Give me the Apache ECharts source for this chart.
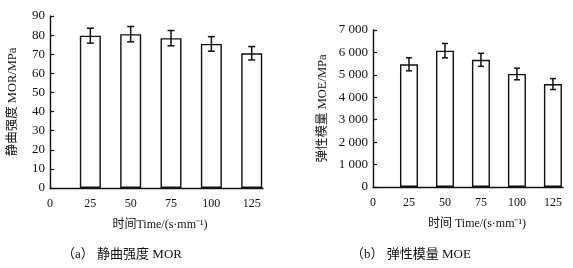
<!DOCTYPE html>
<html>
<head>
<meta charset="utf-8">
<script src="https://cdn.jsdelivr.net/npm/echarts@6/dist/echarts.min.js"></script>
<style>
  html, body { margin: 0; padding: 0; background: #fff; }
  #main { width: 573px; height: 268px; }
</style>
</head>
<body>
<div id="main"></div>
<script>
// time categories (s/mm)
var times = [25, 50, 75, 100, 125];
// MOR, MPa
var morMean = [79.7, 80.5, 78.4, 75.4, 70.5];
var morErr = [3.9, 4.0, 4.0, 3.8, 3.5];
// MOE, MPa
var moeMean = [5470, 6080, 5670, 5040, 4590];
var moeErr = [290, 320, 290, 260, 245];

var FONT = "'Liberation Serif', 'Noto Sans CJK SC', serif";

var chart = echarts.init(document.getElementById('main'));

function pairs(xs, ys) {
    var out = [];
    for (var i = 0; i < xs.length; i++) out.push([xs[i], ys[i]]);
    return out;
}
function errRows(xs, ys, es) {
    var out = [];
    for (var i = 0; i < xs.length; i++) out.push([xs[i], ys[i] - es[i], ys[i] + es[i]]);
    return out;
}
function errBar(capHalf) {
    return function (params, api) {
        var lo = api.coord([api.value(0), api.value(1)]);
        var hi = api.coord([api.value(0), api.value(2)]);
        var st = { stroke: '#111', lineWidth: 1.5 };
        return {
            type: 'group',
            children: [
                { type: 'line', shape: { x1: lo[0], y1: lo[1], x2: hi[0], y2: hi[1] }, style: st },
                { type: 'line', shape: { x1: lo[0] - capHalf, y1: lo[1], x2: lo[0] + capHalf, y2: lo[1] }, style: st },
                { type: 'line', shape: { x1: hi[0] - capHalf, y1: hi[1], x2: hi[0] + capHalf, y2: hi[1] }, style: st }
            ]
        };
    };
}

var axisLine = { lineStyle: { color: '#111', width: 1.4 } };
var labelStyle = { color: '#111', fontFamily: FONT, fontSize: 12 };

function xAxisFor(gi) {
    return {
        type: 'value', gridIndex: gi, min: 0, max: 132, interval: 25,
        axisLine: axisLine, axisTick: { show: false }, splitLine: { show: false },
        axisLabel: Object.assign({}, labelStyle, {
            margin: 10,
            showMaxLabel: false,
            formatter: function (v) { return v % 25 === 0 ? String(v) : ''; }
        })
    };
}

var option = {
    animation: false,
    backgroundColor: '#fff',
    textStyle: { fontFamily: FONT },
    grid: [
        { left: 50, top: 16, right: 310, bottom: 80 },
        { left: 373, top: 30, right: 10, bottom: 81 }
    ],
    xAxis: [xAxisFor(0), xAxisFor(1)],
    yAxis: [
        {
            type: 'value', gridIndex: 0, min: 0, max: 90, interval: 10,
            name: '静曲强度 MOR/MPa', nameLocation: 'middle', nameGap: 31, nameRotate: 90,
            nameTextStyle: { color: '#111', fontFamily: FONT, fontSize: 12.5 },
            axisLine: { show: true, lineStyle: { color: '#111', width: 1.4 } },
            axisTick: { show: true, inside: true, length: 4, lineStyle: { color: '#111', width: 1.2 } },
            splitLine: { show: false },
            axisLabel: Object.assign({}, labelStyle, { margin: 5, fontSize: 13 })
        },
        {
            type: 'value', gridIndex: 1, min: 0, max: 7000, interval: 1000,
            name: '弹性模量 MOE/MPa', nameLocation: 'middle', nameGap: 44, nameRotate: 90,
            nameTextStyle: { color: '#111', fontFamily: FONT, fontSize: 12.5 },
            axisLine: { show: true, lineStyle: { color: '#111', width: 1.4 } },
            axisTick: { show: true, inside: true, length: 4, lineStyle: { color: '#111', width: 1.2 } },
            splitLine: { show: false },
            axisLabel: Object.assign({}, labelStyle, {
                margin: 5,
                fontSize: 13,
                formatter: function (v) {
                    return v >= 1000 ? Math.floor(v / 1000) + ' ' + String(v % 1000).padStart(3, '0') : String(v);
                }
            })
        }
    ],
    series: [
        {
            type: 'bar', xAxisIndex: 0, yAxisIndex: 0, barWidth: 21,
            itemStyle: { color: '#fff', borderColor: '#111', borderWidth: 1.4 },
            data: pairs(times, morMean)
        },
        {
            type: 'custom', xAxisIndex: 0, yAxisIndex: 0, z: 5,
            renderItem: errBar(3.5),
            encode: { x: 0, y: [1, 2] },
            data: errRows(times, morMean, morErr)
        },
        {
            type: 'bar', xAxisIndex: 1, yAxisIndex: 1, barWidth: 18,
            itemStyle: { color: '#fff', borderColor: '#111', borderWidth: 1.4 },
            data: pairs(times, moeMean)
        },
        {
            type: 'custom', xAxisIndex: 1, yAxisIndex: 1, z: 5,
            renderItem: errBar(3),
            encode: { x: 0, y: [1, 2] },
            data: errRows(times, moeMean, moeErr)
        }
    ],
    graphic: [
        {
            type: 'text', x: 160, y: 225,
            style: { text: '时间Time/(s·mm⁻¹)', font: '12px ' + FONT, fill: '#111', align: 'center', verticalAlign: 'middle' }
        },
        {
            type: 'text', x: 477, y: 224,
            style: { text: '时间 Time/(s·mm⁻¹)', font: '12px ' + FONT, fill: '#111', align: 'center', verticalAlign: 'middle' }
        },
        {
            type: 'text', x: 122, y: 255,
            style: { text: '（a） 静曲强度 MOR', font: '13px ' + FONT, fill: '#111', align: 'center', verticalAlign: 'middle' }
        },
        {
            type: 'text', x: 411, y: 255,
            style: { text: '（b） 弹性模量 MOE', font: '13px ' + FONT, fill: '#111', align: 'center', verticalAlign: 'middle' }
        }
    ]
};

chart.setOption(option);
</script>
</body>
</html>
